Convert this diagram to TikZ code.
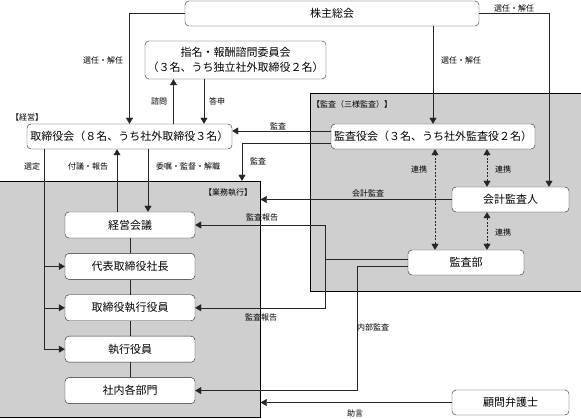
\documentclass[tikz,border=0pt]{standalone}
\usepackage{fontspec}
\newfontfamily\jp{Noto Sans CJK JP}
\usetikzlibrary{arrows.meta,positioning}
\pgfdeclarelayer{background}
\pgfsetlayers{background,main}

\begin{document}
\begin{tikzpicture}[x=1pt, y=-1pt, line width=0.7pt, color=black!85, >={Triangle[length=6pt,width=7pt]}]
\tikzstyle{box}=[draw, rounded corners=4pt, fill=white, text=black, inner sep=0pt, minimum height=25pt, font=\jp\fontsize{11}{15}\selectfont]
\tikzstyle{exec}=[minimum width=130, minimum height=26]
\tikzstyle{lbl}=[inner sep=0pt, text=black, font=\jp\fontsize{8}{9}\selectfont]
\tikzstyle{area}=[draw, fill=black!19, inner sep=0pt]
\tikzstyle{link}=[<->, dash pattern=on 2pt off 1.5pt]
	\useasboundingbox (0,0) rectangle (581,419);

	\begin{pgfonlayer}{background}
	\node[area, minimum width=262, minimum height=236] (gyomu) at (129.5,299) {};
	\node[area, minimum width=271, minimum height=198] (kansa) at (445.5,192) {};
	\end{pgfonlayer}

	\node[box, minimum width=294] (kabu) at (332,13.5) {株主総会};
	\node[box, minimum width=181, minimum height=38, align=center] (shimei) at (235.5,60) {指名・報酬諮問委員会\\（３名、うち独立社外取締役２名）};
	\node[box, minimum width=205] (torishimari) at (129.5,136.5) {取締役会（８名、うち社外取締役３名）};
	\node[box, minimum width=204] (kansayaku) at (433,136.5) {監査役会（３名、うち社外監査役２名）};
	\node[box, minimum width=117] (kaikei) at (510.5,199.5) {会計監査人};
	\node[box, minimum width=116] (kansabu) at (466,262.5) {監査部};
	\node[box, minimum width=117] (komon) at (510.5,402.5) {顧問弁護士};
	\node[box, exec] (keiei) at (130,225) {経営会議};
	\node[box, exec, below=15pt of keiei] (daihyo) {代表取締役社長};
	\node[box, exec, below=15pt of daihyo] (tshikko) {取締役執行役員};
	\node[box, exec, below=15pt of tshikko] (shikko) {執行役員};
	\node[box, exec, below=15pt of shikko] (kakubu) {社内各部門};

	\draw[->] (kabu.west) -| (torishimari.north) ;
	\draw[->] (kabu.south -| kansayaku.north) -- (kansayaku.north) ;
	\draw[->] (kabu.east) -| ([xshift=38.5pt]kaikei.north) ;
	\draw[->] ([xshift=44pt]torishimari.north) -- ([xshift=44pt]torishimari.north |- shimei.south) ;
	\draw[->] ([xshift=-31.5pt]shimei.south) -- ([xshift=-31.5pt]shimei.south |- torishimari.north) ;
	\draw[->] ([yshift=5.5pt]kansayaku.west) -- ([yshift=5.5pt]kansayaku.west -| torishimari.east) ;
	\draw[->] ([yshift=-6.5pt]kansayaku.west) -| ([xshift=112.5pt]gyomu.north) ;
	\draw[->] (kaikei.west) -- (kaikei.west -| gyomu.east) ;
	\draw[->] (komon.west) -- (komon.west -| gyomu.east) ;
	\draw[link] ([xshift=-31pt]kansabu.north) -- ([xshift=-31pt]kansabu.north |- kansayaku.south) ;
	\draw[link] ([xshift=-23.5pt]kaikei.north) -- ([xshift=-23.5pt]kaikei.north |- kansayaku.south) ;
	\draw[link] ([xshift=-23.5pt]kaikei.south) -- ([xshift=-23.5pt]kaikei.south |- kansabu.north) ;
	% 監査報告
	\coordinate (rep) at (325,259) ;
	\draw ([yshift=3.5pt]kansabu.west) -- (rep) ;
	\draw[->] (rep) |- (keiei.east) ;
	\draw[->] (rep) |- (tshikko.east) ;
	% 内部監査
	\coordinate (naibu) at (357,320) ;
	\draw ([yshift=-3.5pt]kansabu.west) -| (naibu) ;
	\draw[->] (naibu) |- (kakubu.east) ;
	% 選定
	\coordinate (sentei) at ([xshift=-85.5pt]torishimari.south) ;
	\draw[->] (sentei) |- (shikko.west) ;
	\draw[->] (sentei |- daihyo.west) -- (daihyo.west) ;
	\draw[->] (sentei |- tshikko.west) -- (tshikko.west) ;
	\draw[->] ([xshift=-13pt]keiei.north) -- ([xshift=-13pt]keiei.north |- torishimari.south) ;
	\draw[->] ([xshift=18pt]keiei.north |- torishimari.south) -- ([xshift=18pt]keiei.north) ;
	\draw (keiei) -- (daihyo) -- (tshikko) -- (shikko) -- (kakubu) ;

	\node[lbl] (l-kabu1) at (103,60) {選任・解任};
	\node[lbl] (l-kabu2) at (461,60) {選任・解任};
	\node[lbl] (l-kabu3) at (514,8) {選任・解任};
	\node[lbl] (l-shimon) at (159,101) {諮問};
	\node[lbl] (l-toshin) at (217,101) {答申};
	\node[lbl] (l-keiei) at (27,117.5) {【経営】};
	\node[lbl] (l-kansa1) at (278,126) {監査};
	\node[lbl] (l-kansa2) at (258,161) {監査};
	\node[lbl] (l-sanyo) at (352,104) {【監査（三様監査）】};
	\node[lbl] (l-renkei1) at (419,169) {連携};
	\node[lbl] (l-renkei2) at (503,169) {連携};
	\node[lbl] (l-renkei3) at (503,232) {連携};
	\node[lbl] (l-kaikei) at (368,193) {会計監査};
	\node[lbl] (l-gyomu) at (228,193) {【業務執行】};
	\node[lbl] (l-rep1) at (262,217) {監査報告};
	\node[lbl] (l-rep2) at (261,317) {監査報告};
	\node[lbl] (l-naibu) at (373,327) {内部監査};
	\node[lbl] (l-jogen) at (355,413) {助言};
	\node[lbl] (l-sentei) at (32,166) {選定};
	\node[lbl] (l-fugi) at (88,166) {付議・報告};
	\node[lbl] (l-ishoku) at (188,166) {委嘱・監督・解職};
\end{tikzpicture}
\end{document}
